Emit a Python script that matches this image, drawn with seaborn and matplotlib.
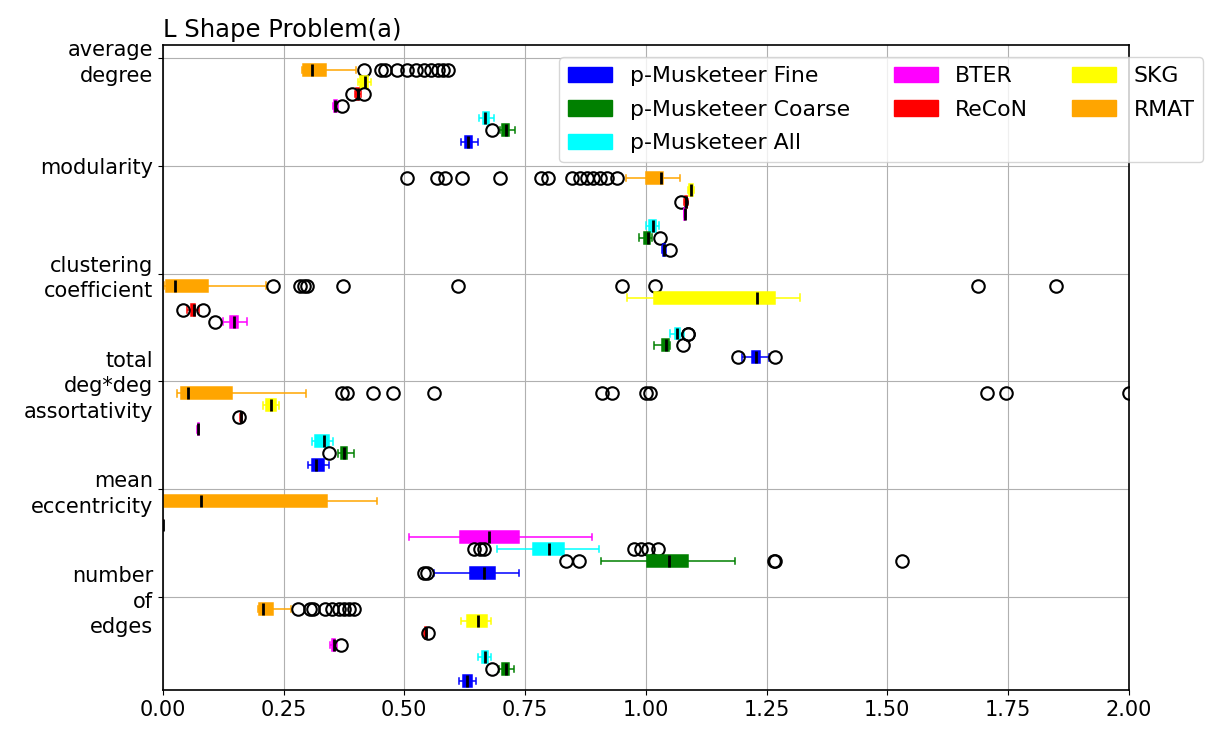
import numpy as np
import pandas as pd
import matplotlib
matplotlib.use("Agg")
import matplotlib.pyplot as plt
import matplotlib.patches as mpatches
import seaborn as sns

metrics = ["average\ndegree", "modularity", "clustering\ncoefficient",
           "total\ndeg*deg\nassortativity", "mean\neccentricity", "number\nof\nedges"]
# top to bottom inside each metric group
generators = ["RMAT", "SKG", "ReCoN", "BTER",
              "p-Musketeer All", "p-Musketeer Coarse", "p-Musketeer Fine"]
colors = ["orange", "yellow", "red", "magenta", "cyan", "green", "blue"]
legend_order = ["p-Musketeer Fine", "p-Musketeer Coarse", "p-Musketeer All",
                "BTER", "ReCoN", "SKG", "RMAT"]

# (whisker low, q1, median, q3, whisker high) per generator
avg_degree_box = [(0.289, 0.291, 0.308, 0.338, 0.400), (0.405, 0.408, 0.418, 0.425, 0.430),
                  (0.398, 0.401, 0.404, 0.406, 0.410), (0.352, 0.354, 0.357, 0.360, 0.362),
                  (0.655, 0.662, 0.668, 0.676, 0.685), (0.698, 0.703, 0.710, 0.716, 0.730),
                  (0.617, 0.625, 0.632, 0.641, 0.652)]
avg_degree_low = [[], [], [0.392], [], [], [0.681], []]
avg_degree_high = [[0.416, 0.452, 0.46, 0.485, 0.505, 0.525, 0.54, 0.555, 0.57, 0.58, 0.59],
                   [], [0.416], [0.371], [], [], []]

modularity_box = [(0.960, 1.000, 1.031, 1.036, 1.071), (1.088, 1.090, 1.094, 1.097, 1.100),
                  (1.080, 1.081, 1.083, 1.085, 1.087), (1.079, 1.080, 1.081, 1.082, 1.083),
                  (1.000, 1.006, 1.014, 1.022, 1.028), (0.985, 0.996, 1.004, 1.008, 1.012),
                  (1.033, 1.036, 1.038, 1.040, 1.042)]
modularity_low = [[0.505, 0.567, 0.584, 0.619, 0.698, 0.783, 0.797, 0.847, 0.863,
                   0.878, 0.89, 0.905, 0.919, 0.94], [], [1.073], [], [], [], []]
modularity_high = [[], [], [], [], [], [1.03], [1.05]]

clustering_box = [(0.003, 0.006, 0.025, 0.093, 0.214), (0.962, 1.016, 1.230, 1.268, 1.320),
                  (0.050, 0.058, 0.064, 0.066, 0.075), (0.125, 0.140, 0.147, 0.155, 0.175),
                  (1.051, 1.060, 1.065, 1.070, 1.080), (1.016, 1.033, 1.041, 1.049, 1.050),
                  (1.200, 1.220, 1.228, 1.236, 1.255)]
clustering_low = [[], [], [0.041], [0.109], [], [], [1.19]]
clustering_high = [[0.228, 0.284, 0.293, 0.298, 0.373, 0.612, 0.95, 1.02, 1.687, 1.85],
                   [], [0.083], [], [1.087, 1.088], [1.076], [1.267]]

assort_box = [(0.030, 0.037, 0.053, 0.143, 0.297), (0.207, 0.213, 0.223, 0.234, 0.240),
              (0.1605, 0.1615, 0.162, 0.1625, 0.1635), (0.071, 0.072, 0.073, 0.074, 0.075),
              (0.309, 0.316, 0.333, 0.345, 0.353), (0.362, 0.368, 0.375, 0.382, 0.396),
              (0.301, 0.309, 0.317, 0.333, 0.345)]
assort_low = [[], [], [0.1585], [], [], [0.344], []]
assort_high = [[0.37, 0.382, 0.436, 0.477, 0.562, 0.91, 0.93, 1.0, 1.008, 1.707, 1.745, 2.0],
               [], [], [], [], [], []]

eccentricity_box = [(0.0, 0.001, 0.080, 0.339, 0.443), None,
                    (0.0, 0.0, 0.0, 0.0, 0.0), (0.510, 0.615, 0.675, 0.738, 0.889),
                    (0.692, 0.767, 0.799, 0.830, 0.904), (0.908, 1.003, 1.047, 1.087, 1.184),
                    (0.562, 0.635, 0.666, 0.687, 0.738)]
eccentricity_low = [[], [], [], [], [0.644, 0.656, 0.666], [0.835, 0.862], [0.54, 0.548]]
eccentricity_high = [[], [], [], [], [0.975, 0.99, 1.005, 1.025], [1.265, 1.268, 1.53], []]

edges_box = [(0.197, 0.200, 0.207, 0.228, 0.265), (0.617, 0.629, 0.652, 0.672, 0.680),
             (0.541, 0.5425, 0.544, 0.5445, 0.546), (0.347, 0.350, 0.354, 0.357, 0.360),
             (0.653, 0.660, 0.667, 0.674, 0.680), (0.697, 0.703, 0.710, 0.716, 0.728),
             (0.613, 0.621, 0.629, 0.640, 0.649)]
edges_low = [[], [], [], [], [], [0.681], []]
edges_high = [[0.28, 0.305, 0.31, 0.335, 0.35, 0.365, 0.375, 0.385, 0.395],
              [], [0.549], [0.369], [], [], []]


def observations(lows, box, highs):
    # sample whose quartiles / whiskers / fliers give back the read box
    lo, q1, med, q3, hi = box
    m = len(lows) + len(highs) + 2
    a = (3 * m) // 2 - len(lows)
    c = 4 * m + 1 - (len(lows) + len(highs) + 2) - a - m
    return list(lows) + [lo] + [q1] * a + [med] * m + [q3] * c + [hi] + list(highs)


groups = [(avg_degree_box, avg_degree_low, avg_degree_high),
          (modularity_box, modularity_low, modularity_high),
          (clustering_box, clustering_low, clustering_high),
          (assort_box, assort_low, assort_high),
          (eccentricity_box, eccentricity_low, eccentricity_high),
          (edges_box, edges_low, edges_high)]

rows = []
for metric, (boxes, lows, highs) in zip(metrics, groups):
    for gen, box, lo, hi in zip(generators, boxes, lows, highs):
        if box is None:
            continue
        for v in observations(lo, box, hi):
            rows.append((metric, gen, v))
df = pd.DataFrame(rows, columns=["metric", "generator", "value"])

plt.rcParams["font.size"] = 15

fig, ax = plt.subplots(figsize=(12.06, 7.32), dpi=100)
palette = dict(zip(generators, colors))
for gen, col in zip(generators, colors):
    sns.boxplot(data=df[df["generator"] == gen], x="value", y="metric", hue="generator",
                order=metrics, hue_order=generators, palette=palette, saturation=1,
                orient="h", dodge=True, width=7 / 9, gap=0, linecolor=col, linewidth=1.1,
                legend=False, ax=ax, capwidths=0.06,
                medianprops=dict(color="black", linewidth=2),
                flierprops=dict(marker="o", markerfacecolor="none", markeredgecolor="black",
                                markersize=9, markeredgewidth=1.5))

ax.set_yticks([i - 4 / 9 for i in range(len(metrics))])
ax.set_yticklabels(metrics)
for lbl in ax.get_yticklabels():
    lbl.set_linespacing(1.35)
ax.set_ylim(5.418, -0.565)
ax.set_xlim(0, 2)
ax.set_xticks(np.arange(0, 2.01, 0.25))
ax.set_xticklabels([f"{t:.2f}" for t in np.arange(0, 2.01, 0.25)])
ax.set_xlabel("")
ax.set_ylabel("")
ax.grid(True, color="#b0b0b0", linewidth=0.8)
ax.set_axisbelow(True)
for sp in ax.spines.values():
    sp.set_visible(True)
    sp.set_color("black")
    sp.set_linewidth(1.2)
ax.set_title("L Shape Problem(a)", loc="left", fontsize=17.5)

handles = [mpatches.Patch(facecolor=palette[g], edgecolor=palette[g], label=g)
           for g in legend_order]
ax.legend(handles=handles, ncol=3, loc="upper right", bbox_to_anchor=(1.077, 0.981),
          borderaxespad=0, fontsize=15.8, labelspacing=0.62)

fig.subplots_adjust(left=0.135, right=0.936, top=0.9385, bottom=0.0574)
fig.savefig("out.png", dpi=100)
